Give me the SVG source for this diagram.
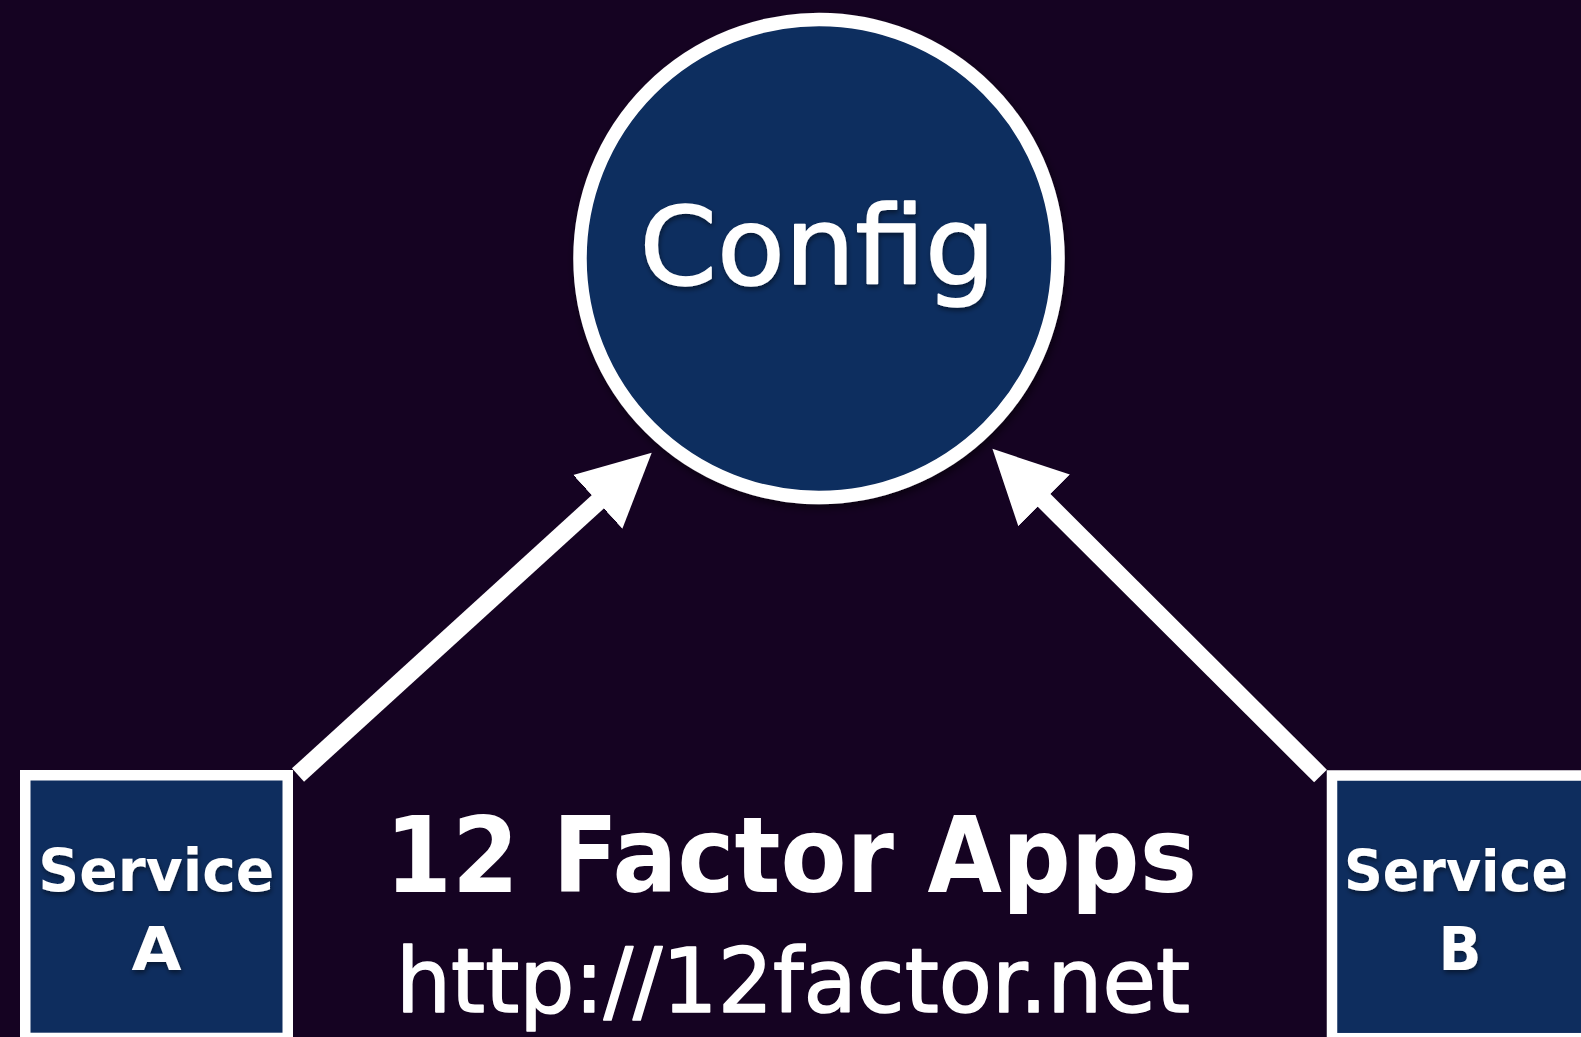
<svg xmlns="http://www.w3.org/2000/svg" width="1581" height="1037" viewBox="0 0 1581 1037">
  <style>
    .bg { fill: #150322; }
    .node { fill: #0e2d5e; stroke: #ffffff; }
    .lbl { fill: #ffffff; font-family: "DejaVu Sans", "Liberation Sans", sans-serif; text-anchor: middle; }
    .bold { font-weight: bold; }
    .med { stroke: #ffffff; stroke-width: 1.6; stroke-linejoin: round; }
    .conn { stroke: #ffffff; stroke-width: 18; fill: none; stroke-linecap: butt; }
  </style>
  <defs>
    <filter id="shadow" x="-20%" y="-20%" width="140%" height="140%">
      <feDropShadow dx="2" dy="4" stdDeviation="4" flood-color="#000000" flood-opacity="0.55"/>
    </filter>
    <filter id="tshadow" x="-10%" y="-20%" width="120%" height="150%">
      <feDropShadow dx="1" dy="3" stdDeviation="2.5" flood-color="#000000" flood-opacity="0.45"/>
    </filter>
    <marker id="arrow" viewBox="0 -37 74 74" refX="1" refY="0" markerWidth="74" markerHeight="74" markerUnits="userSpaceOnUse" orient="auto">
      <path d="M0,-36.5 L73,0 L0,36.5 Z" fill="#ffffff"/>
    </marker>
  </defs>
  <rect class="bg" x="0" y="0" width="1581" height="1037"/>

  <g id="connectors">
    <line class="conn" x1="298" y1="775" x2="598.5" y2="501.2" marker-end="url(#arrow)"/>
    <line class="conn" x1="1320.5" y1="776" x2="1043.4" y2="499.7" marker-end="url(#arrow)"/>
  </g>

  <g id="config">
    <circle class="node" cx="819" cy="258.5" r="239" stroke-width="13.5" filter="url(#shadow)"/>
    <text class="lbl med" x="817.5" y="284" font-size="108" textLength="356" lengthAdjust="spacingAndGlyphs" filter="url(#tshadow)">Config</text>
  </g>

  <g id="service-a">
    <rect class="node" x="25.25" y="775.25" width="262.5" height="262.7" stroke-width="10.5"/>
    <text class="lbl bold" x="156.3" y="890.5" font-size="58" textLength="236" lengthAdjust="spacingAndGlyphs" filter="url(#tshadow)">Service</text>
    <text class="lbl bold" x="156.5" y="970" font-size="60" textLength="50" lengthAdjust="spacingAndGlyphs" filter="url(#tshadow)">A</text>
  </g>

  <g id="service-b">
    <rect class="node" x="1332" y="775.5" width="262.5" height="262.7" stroke-width="10.5"/>
    <text class="lbl bold" x="1456" y="890.5" font-size="57.5" textLength="224" lengthAdjust="spacingAndGlyphs" filter="url(#tshadow)">Service</text>
    <text class="lbl bold" x="1460" y="970" font-size="60" textLength="43" lengthAdjust="spacingAndGlyphs" filter="url(#tshadow)">B</text>
  </g>

  <g id="title">
    <text class="lbl bold" x="791" y="892" font-size="105" textLength="812" lengthAdjust="spacingAndGlyphs">12 Factor Apps</text>
    <text class="lbl med" x="793" y="1011.5" font-size="89" textLength="794" lengthAdjust="spacingAndGlyphs">http://12factor.net</text>
  </g>
</svg>
